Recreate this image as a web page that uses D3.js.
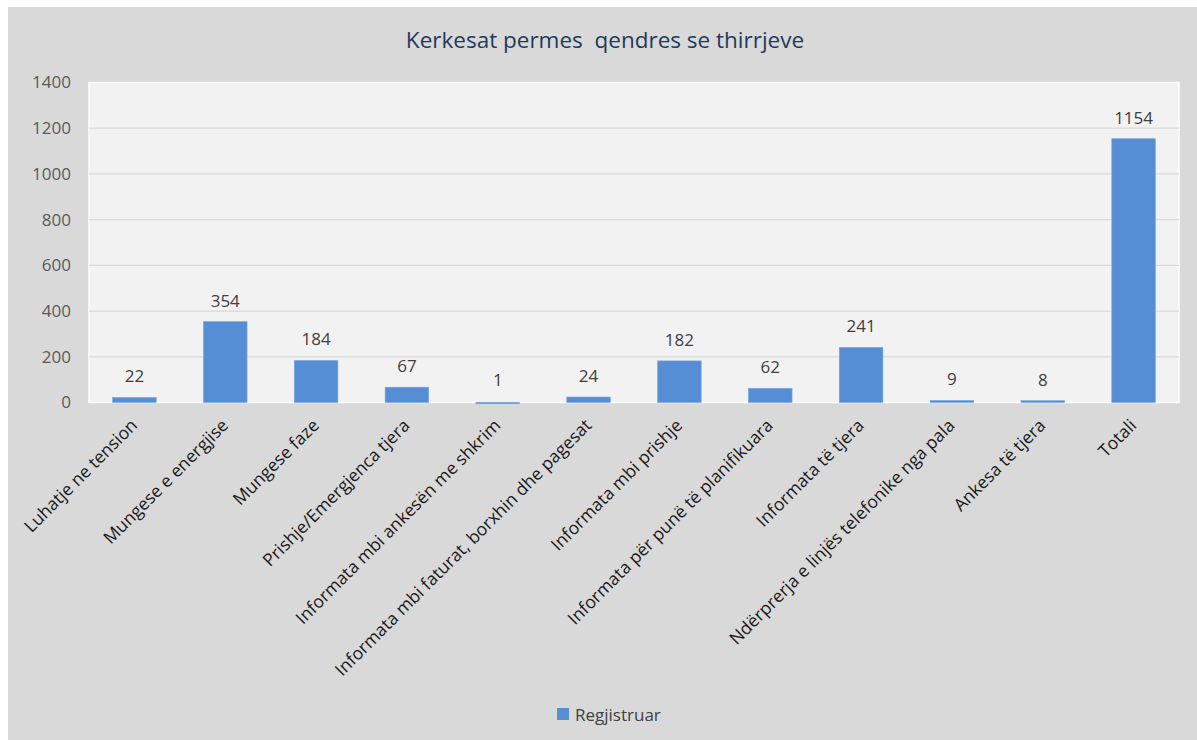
<!DOCTYPE html>
<html>
<head>
<meta charset="utf-8">
<script src="https://cdn.jsdelivr.net/npm/d3@7/dist/d3.min.js"></script>
<style>
body { margin: 0; background: #fff; }
svg text { font-family: "Open Sans", "Noto Sans", sans-serif; }
</style>
</head>
<body>
<svg id="mainSvg" width="1197" height="740"></svg>
<script>
var categories = ["Luhatje ne tension", "Mungese e energjise", "Mungese faze", "Prishje/Emergjenca tjera",
	"Informata mbi ankesën me shkrim", "Informata mbi faturat, borxhin dhe pagesat", "Informata mbi prishje",
	"Informata për punë të planifikuara", "Informata të tjera", "Ndërprerja e linjës telefonike nga pala",
	"Ankesa të tjera", "Totali"];
var values = [22, 354, 184, 67, 1, 24, 182, 62, 241, 9, 8, 1154];
var yTicks = [0, 200, 400, 600, 800, 1000, 1200, 1400];
var seriesName = "Regjistruar";
var title = "Kerkesat permes  qendres se thirrjeve";

var plot = {left: 89, top: 82.5, right: 1179, bottom: 402.5};
var svg = d3.select("#mainSvg");

// chart background
svg.append("rect").attr("x", 8).attr("y", 7).attr("width", 1189).attr("height", 733).attr("fill", "#d9d9d9");
svg.append("rect").attr("x", plot.left).attr("y", plot.top)
	.attr("width", plot.right - plot.left).attr("height", plot.bottom - plot.top)
	.attr("fill", "#f2f2f2").attr("stroke", "#ffffff").attr("stroke-width", 1.5);

var x = d3.scaleBand().domain(categories).range([plot.left, plot.right]).paddingInner(0.52).paddingOuter(0.26);
var y = d3.scaleLinear().domain([0, 1400]).range([plot.bottom, plot.top]);

// gridlines
svg.append("g").selectAll("line").data(yTicks.slice(1, -1)).enter().append("line")
	.attr("x1", plot.left).attr("x2", plot.right)
	.attr("y1", function(d) { return y(d); }).attr("y2", function(d) { return y(d); })
	.attr("stroke", "#d9d9d9").attr("stroke-width", 1.3);

// y axis
var yAxis = svg.append("g").attr("transform", "translate(" + (plot.left) + ",0)")
	.call(d3.axisLeft(y).tickValues(yTicks).tickFormat(d3.format("d")).tickSize(0).tickPadding(18));
yAxis.select(".domain").remove();
yAxis.selectAll("text").attr("font-size", "17px").attr("fill", "#595959")
	.attr("font-family", "'Open Sans', sans-serif");

// bars
svg.append("g").selectAll("rect").data(values).enter().append("rect")
	.attr("x", function(d, i) { return x(categories[i]); })
	.attr("width", x.bandwidth())
	.attr("y", function(d) { return y(d); })
	.attr("height", function(d) { return Math.max(1.5, y(0) - y(d)); })
	.attr("fill", "#558ed5").attr("stroke", "#7aa6de").attr("stroke-width", 0.6);

// value labels
svg.append("g").selectAll("text").data(values).enter().append("text")
	.attr("x", function(d, i) { return x(categories[i]) + x.bandwidth() / 2; })
	.attr("y", function(d) { return Math.min(y(d), y(0) - 1.5) - 15; })
	.attr("text-anchor", "middle").attr("font-size", "17px").attr("fill", "#404040")
	.text(function(d) { return d; });

// x axis labels
var xAxis = svg.append("g").attr("transform", "translate(0," + plot.bottom + ")")
	.call(d3.axisBottom(x).tickSize(0).tickPadding(0));
xAxis.select(".domain").remove();
xAxis.selectAll("text")
	.attr("font-size", "17.5px").attr("fill", "#1a1a1a")
	.attr("font-family", "'Open Sans', sans-serif")
	.attr("text-anchor", "end")
	.attr("dy", null).attr("y", 0)
	.attr("transform", "translate(4,24) rotate(-45)");

// title
svg.append("text").attr("x", 605).attr("y", 48).attr("text-anchor", "middle")
	.attr("font-size", "22.5px").attr("fill", "#1f3b5c").attr("xml:space", "preserve")
	.style("white-space", "pre").text(title);

// legend
svg.append("rect").attr("x", 557).attr("y", 708).attr("width", 12).attr("height", 12).attr("fill", "#558ed5");
svg.append("text").attr("x", 575).attr("y", 721).attr("font-size", "17px").attr("fill", "#404040").text(seriesName);
</script>
</body>
</html>
